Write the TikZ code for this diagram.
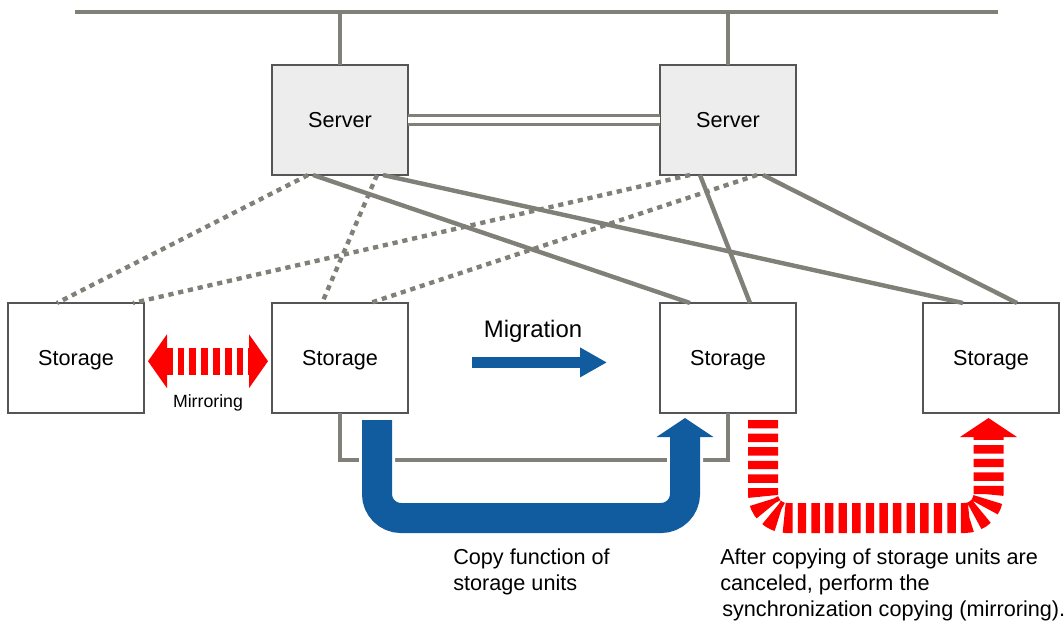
\documentclass[tikz,border=0pt]{standalone}
\usepackage{fontspec}
\setmainfont{Liberation Sans}
\usepackage{xcolor}
\usepackage{tikz}
\usetikzlibrary{arrows.meta, positioning}

\definecolor{linegray}{RGB}{128,128,120}
\definecolor{boxgray}{RGB}{85,85,85}
\definecolor{serverfill}{RGB}{237,237,237}
\definecolor{copyblue}{RGB}{17,92,158}

\begin{document}
\begin{tikzpicture}[
  unit/.style={rectangle, draw=boxgray, line width=0.05cm, minimum width=3.4cm, minimum height=2.75cm, inner sep=0pt, outer sep=0pt, text depth=0pt, align=center, font=\fontsize{15.4}{18.5}\selectfont},
  link/.style={draw=linegray, line width=0.11cm},
  dotlink/.style={link, dash pattern=on 0.13cm off 0.12cm},
  copyarrow/.style={draw=copyblue, line width=0.75cm, rounded corners=0.6cm, -{Triangle[length=0.475cm, width=1.4cm]}, preaction={draw=white, line width=0.9cm}},
  syncarrow/.style={draw=red, line width=0.75cm, rounded corners=0.6cm, dash pattern=on 0.21cm off 0.13cm, -{Triangle[length=0.475cm, width=1.4cm]}},
  note/.style={align=left, anchor=north west, inner sep=0pt, font=\fontsize{15.4}{18.5}\selectfont}
]
  \useasboundingbox (0,0) rectangle (26.6,-15.55);

  \node[unit, fill=serverfill] (server1) at (8.5,-3) {Server};
  \node[unit, fill=serverfill, right=6.3cm of server1] (server2) {Server};
  \node[unit, fill=white, below=3.2cm of server1] (storage2) {Storage};
  \node[unit, fill=white, left=3.2cm of storage2] (storage1) {Storage};
  \node[unit, fill=white, below=3.2cm of server2] (storage3) {Storage};
  \node[unit, fill=white, right=3.175cm of storage3] (storage4) {Storage};

  % LAN
  \coordinate (busL) at (1.875,-0.3);
  \coordinate (busR) at (24.95,-0.3);
  \draw[link] (busL) -- (busR);
  \draw[link] (server1.north) -- (server1.north |- busL);
  \draw[link] (server2.north) -- (server2.north |- busR);
  \draw[draw=linegray, line width=0.075cm, double=white, double distance=0.15cm] (server1) -- (server2);

  % paths to the storage
  \draw[dotlink] ([xshift=-0.8cm]server1.south) -- ([xshift=-0.475cm]storage1.north);
  \draw[link] ([xshift=-0.675cm]server1.south) -- ([xshift=-0.95cm]storage3.north);
  \draw[dotlink] ([xshift=0.925cm]server1.south) -- ([xshift=-0.45cm]storage2.north);
  \draw[link] ([xshift=1.075cm]server1.south) -- ([xshift=-0.7cm]storage4.north);
  \draw[dotlink] ([xshift=-0.95cm]server2.south) -- ([xshift=1.425cm]storage1.north);
  \draw[link] ([xshift=-0.7cm]server2.south) -- ([xshift=0.55cm]storage3.north);
  \draw[dotlink] ([xshift=0.725cm]server2.south) -- ([xshift=0.75cm]storage2.north);
  \draw[link] ([xshift=0.875cm]server2.south) -- ([xshift=0.65cm]storage4.north);

  \draw[link] (storage2.south) -- ++(0,-1.175) -| (storage3.south);

  % mirroring
  \draw[draw=red, line width=0.675cm, dash pattern=on 0.17cm off 0.125cm, {Triangle[length=0.475cm, width=1.325cm]}-{Triangle[length=0.475cm, width=1.325cm]}]
    ([xshift=0.1cm, yshift=-0.08cm]storage1.east) -- ([xshift=-0.1cm, yshift=-0.08cm]storage2.west);
  \node[font=\fontsize{12.6}{15}\selectfont] (mirrorlbl) at (5.2,-10.075) {Mirroring};

  % migration
  \node[font=\fontsize{17}{20}\selectfont] (migration) at (13.325,-8.275) {Migration};
  \coordinate (migA) at (11.8,-9.06);
  \coordinate (migB) at (15.175,-9.06);
  \draw[draw=copyblue, line width=0.275cm, -{Triangle[length=0.675cm, width=0.7cm]}] (migA) -- (migB);

  \draw[copyarrow] ([xshift=0.925cm, yshift=-0.175cm]storage2.south) |- ([xshift=-1.075cm, yshift=-2.625cm]storage3.south) -- ([xshift=-1.075cm, yshift=-0.125cm]storage3.south);
  \draw[syncarrow] ([xshift=0.875cm, yshift=-0.175cm]storage3.south) |- ([xshift=-0.0625cm, yshift=-2.625cm]storage4.south) -- ([xshift=-0.0625cm, yshift=-0.125cm]storage4.south);

  \node[note] (copytext) at (11.325,-13.725) {Copy function of\\storage units};
  \node[note] (synctext) at (18,-13.725) {After copying of storage units are\\canceled, perform the\\\hspace{0.05cm}synchronization copying (mirroring).};
\end{tikzpicture}
\end{document}
